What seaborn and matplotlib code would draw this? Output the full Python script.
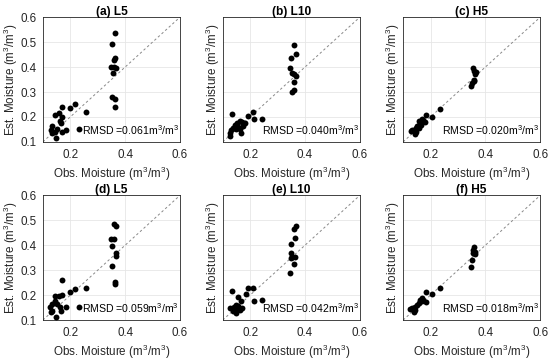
import numpy as np
import pandas as pd
import seaborn as sns
import matplotlib.pyplot as plt

obs_a = [0.363, 0.354, 0.364, 0.359, 0.349, 0.359, 0.368, 0.357, 0.354, 0.364, 0.364,
         0.169, 0.199, 0.216, 0.259, 0.157, 0.145, 0.169, 0.162, 0.165, 0.133, 0.152,
         0.129, 0.144, 0.168, 0.186, 0.132, 0.148, 0.231]
est_a = [0.535, 0.492, 0.437, 0.428, 0.401, 0.401, 0.395, 0.375, 0.281, 0.272, 0.241,
         0.241, 0.237, 0.253, 0.221, 0.217, 0.208, 0.199, 0.184, 0.175, 0.164, 0.151,
         0.148, 0.139, 0.139, 0.148, 0.135, 0.117, 0.152]

obs_b = [0.359, 0.366, 0.351, 0.347, 0.354, 0.359, 0.366, 0.361, 0.359, 0.354,
         0.133, 0.211, 0.191, 0.213, 0.242, 0.162, 0.169, 0.152, 0.181, 0.138, 0.156,
         0.147, 0.162, 0.130, 0.167, 0.126, 0.128, 0.143, 0.174]
est_b = [0.488, 0.453, 0.437, 0.397, 0.375, 0.371, 0.365, 0.339, 0.308, 0.299,
         0.211, 0.221, 0.204, 0.191, 0.193, 0.184, 0.179, 0.175, 0.175, 0.157, 0.161,
         0.152, 0.152, 0.148, 0.137, 0.135, 0.125, 0.168, 0.165]

obs_c = [0.354, 0.359, 0.364, 0.357, 0.352, 0.347, 0.359, 0.366,
         0.235, 0.206, 0.184, 0.181, 0.169, 0.157, 0.162, 0.152, 0.147, 0.140, 0.133,
         0.147, 0.143, 0.128, 0.159, 0.165, 0.174]
est_c = [0.395, 0.384, 0.373, 0.344, 0.335, 0.325, 0.347, 0.379,
         0.231, 0.201, 0.208, 0.179, 0.192, 0.184, 0.175, 0.165, 0.157, 0.148, 0.148,
         0.139, 0.131, 0.144, 0.155, 0.168, 0.188]

obs_d = [0.359, 0.366, 0.349, 0.359, 0.354, 0.366, 0.366, 0.354, 0.364, 0.364,
         0.169, 0.199, 0.216, 0.259, 0.145, 0.159, 0.169, 0.133, 0.152, 0.125, 0.162,
         0.133, 0.165, 0.186, 0.230, 0.148, 0.131, 0.143]
est_d = [0.484, 0.477, 0.427, 0.424, 0.399, 0.369, 0.359, 0.316, 0.253, 0.244,
         0.260, 0.213, 0.223, 0.227, 0.196, 0.197, 0.200, 0.163, 0.163, 0.153, 0.153,
         0.137, 0.137, 0.151, 0.153, 0.113, 0.131, 0.177]

obs_e = [0.366, 0.361, 0.364, 0.351, 0.351, 0.354, 0.364, 0.349, 0.359, 0.347,
         0.133, 0.191, 0.211, 0.184, 0.157, 0.213, 0.242, 0.165, 0.147, 0.156, 0.169,
         0.125, 0.140, 0.152, 0.162, 0.147, 0.138]
est_e = [0.476, 0.467, 0.429, 0.407, 0.369, 0.353, 0.353, 0.351, 0.323, 0.289,
         0.216, 0.227, 0.229, 0.204, 0.193, 0.176, 0.179, 0.177, 0.160, 0.156, 0.147,
         0.147, 0.151, 0.143, 0.140, 0.127, 0.137]

obs_f = [0.359, 0.354, 0.364, 0.361, 0.354, 0.352, 0.347,
         0.235, 0.206, 0.184, 0.184, 0.169, 0.162, 0.157, 0.152, 0.145, 0.138, 0.131,
         0.145, 0.138, 0.125, 0.167, 0.174]
est_f = [0.393, 0.383, 0.373, 0.364, 0.369, 0.340, 0.313,
         0.227, 0.204, 0.213, 0.173, 0.187, 0.180, 0.169, 0.160, 0.153, 0.147, 0.147,
         0.140, 0.132, 0.143, 0.177, 0.181]

titles = ["(a) L5", "(b) L10", "(c) H5", "(d) L5", "(e) L10", "(f) H5"]
rmsd = ["0.061", "0.040", "0.020", "0.059", "0.042", "0.018"]
obs_all = [obs_a, obs_b, obs_c, obs_d, obs_e, obs_f]
est_all = [est_a, est_b, est_c, est_d, est_e, est_f]

sns.set_theme(style="whitegrid")
plt.rcParams['font.family'] = ['Liberation Sans', 'DejaVu Sans']
plt.rcParams['mathtext.fontset'] = 'custom'
plt.rcParams['mathtext.rm'] = 'Liberation Sans'
plt.rcParams['mathtext.it'] = 'Liberation Sans:italic'
plt.rcParams['mathtext.bf'] = 'Liberation Sans:bold'

fig = plt.figure(figsize=(5.5, 3.6), dpi=100)
lefts = [0.078, 0.405, 0.733]
bottoms = [0.606, 0.111]
w, h = 0.249, 0.346

unit = "(m$^3$/m$^3$)"
for i in range(6):
    r, c = divmod(i, 3)
    ax = fig.add_axes([lefts[c], bottoms[r], w, h])
    df = pd.DataFrame({"obs": obs_all[i], "est": est_all[i]})
    ax.plot([0.1, 0.6], [0.1, 0.6], ls=(0, (2.5, 2.5)), color="#888888", lw=0.7, zorder=1)
    sns.scatterplot(data=df, x="obs", y="est", ax=ax, color="black", s=18,
                    edgecolor="black", linewidth=0, zorder=3)
    ax.set_xlim(0.1, 0.6)
    ax.set_ylim(0.1, 0.6)
    ax.set_xticks([0.2, 0.4, 0.6])
    ax.set_yticks([0.1, 0.2, 0.3, 0.4, 0.5, 0.6])
    ax.set_xticklabels(["0.2", "0.4", "0.6"])
    if c == 0:
        ax.set_yticklabels(["0.1", "0.2", "0.3", "0.4", "0.5", "0.6"])
    else:
        ax.set_yticklabels([])
    ax.tick_params(direction="in", length=2, width=0.5, colors="#262626",
                   labelsize=8.4, labelcolor="#262626")
    ax.tick_params(axis="x", pad=5)
    ax.tick_params(axis="y", pad=4.5)
    ax.grid(True, color="#e6e6e6", lw=0.6)
    for sp in ax.spines.values():
        sp.set_color("#262626")
        sp.set_linewidth(0.6)
    ax.set_xlabel("Obs. Moisture " + unit, fontsize=8.4, color="#262626", labelpad=3)
    ax.set_ylabel("Est. Moisture " + unit, fontsize=8.4, color="#262626")
    ax.yaxis.set_label_coords(-0.165 if c == 0 else -0.006, 0.5)
    ax.set_title(titles[i], fontsize=8.6, fontweight="bold", pad=2, color="black")
    ax.text(0.597, 0.148, "RMSD =" + rmsd[i] + "m$^3$/m$^3$", ha="right", va="center",
            fontsize=7.6, color="black", zorder=4)

plt.savefig("out.png", dpi=100)
